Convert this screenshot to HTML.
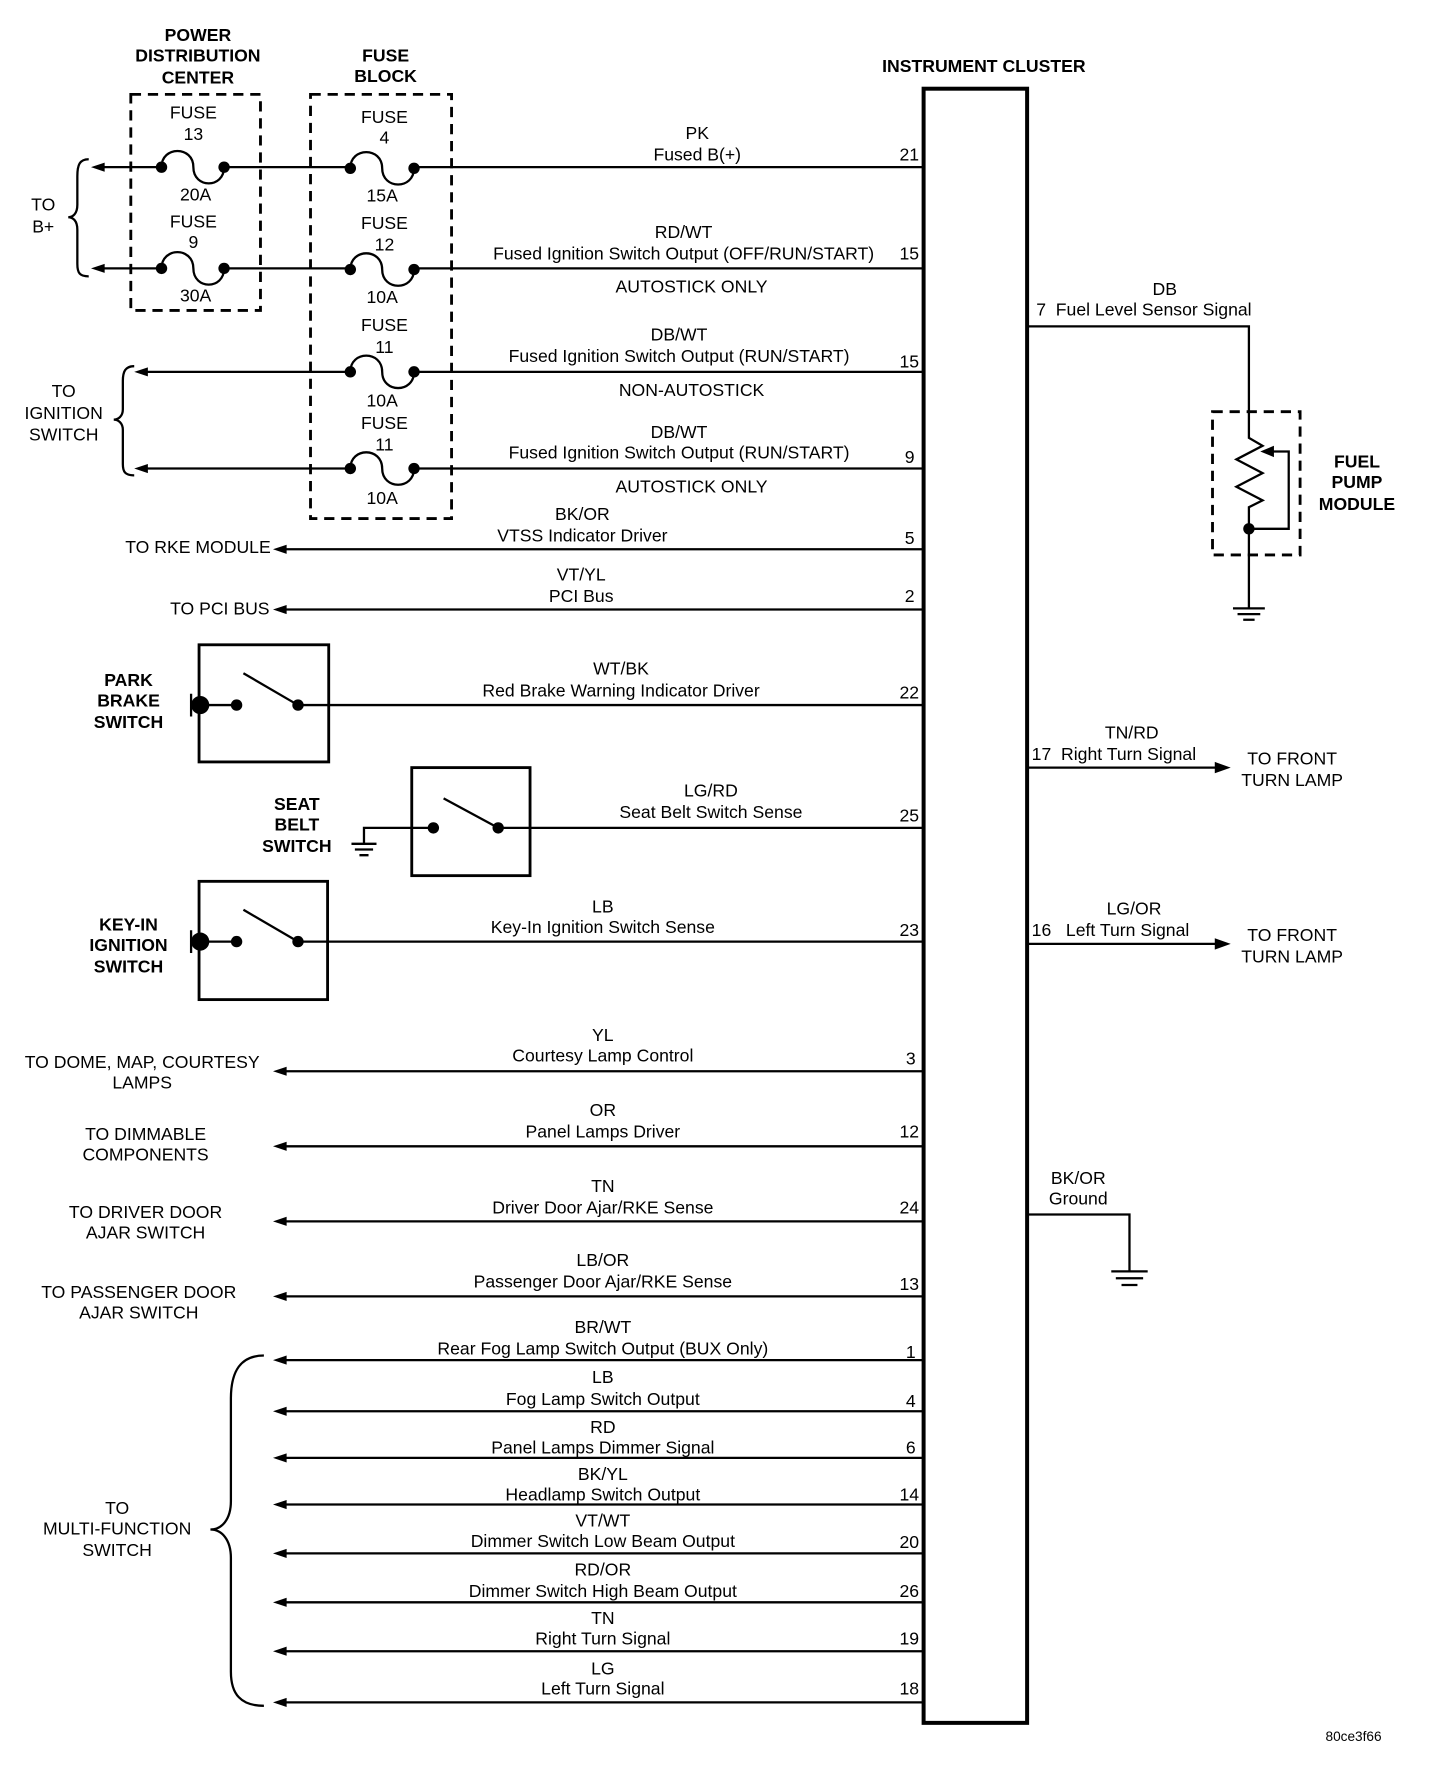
<!DOCTYPE html>
<html><head><meta charset="utf-8"><style>
html,body{margin:0;padding:0;background:#fff}
svg{display:block}
text{font-family:"Liberation Sans",Arial,sans-serif;font-size:15.5px;fill:#000;dominant-baseline:central}
.b{font-weight:bold}
.m{text-anchor:middle}
.e{text-anchor:end}
</style></head><body>
<svg width="1440" height="1782" viewBox="0 0 1266 1567" preserveAspectRatio="none" xmlns="http://www.w3.org/2000/svg">
<g stroke="#000" fill="none" stroke-width="2">
<rect x="812" y="78" width="91" height="1437" stroke-width="3.5"/>
<rect x="115" y="83" width="114" height="190" stroke-dasharray="9,6" stroke-width="2.5"/>
<rect x="273" y="83" width="124" height="373" stroke-dasharray="9,6" stroke-width="2.5"/>
<rect x="1066" y="362" width="77" height="126" stroke-dasharray="9,6" stroke-width="2.5"/>
<path d="M90,147 H142 M197,147 H308 M364,147 H812"/>
<path d="M90,236 H142 M197,236 H308 M364,236 H812"/>
<path d="M128,327 H308 M364,327 H812"/>
<path d="M128,412 H308 M364,412 H812"/>
<path d="M142,147 C142,128 170,128 170,147 C170,166 197,166 197,147"/>
<path d="M142,236 C142,217 170,217 170,236 C170,255 197,255 197,236"/>
<path d="M308,148 C308,129 336,129 336,148 C336,167 364,167 364,148"/>
<path d="M308,237 C308,218 336,218 336,237 C336,256 364,256 364,237"/>
<path d="M308,327 C308,308 336,308 336,327 C336,346 364,346 364,327"/>
<path d="M308,412 C308,393 336,393 336,412 C336,431 364,431 364,412"/>
<path d="M78,140 C70,140 68,145 68,155 V180 C68,188 64,191 60,191 C64,191 68,194 68,202 V232 C68,240 70,243 78,243"/>
<path d="M118,322 C110,322 108,327 108,335 V360 C108,366 104,369 100,369 C104,369 108,372 108,378 V408 C108,415 110,418 118,418"/>
<path d="M232,1192 C212,1192 203,1205 203,1230 V1320 C203,1336 195,1345 185,1345 C195,1345 203,1354 203,1370 V1470 C203,1490 212,1500 232,1500"/>
<path d="M250,483 H812 M250,536 H812 M262,620 H812 M438,728 H812 M262,828 H812"/>
<path d="M250,942 H812 M250,1008 H812 M250,1074 H812 M250,1140 H812"/>
<path d="M250,1196 H812 M250,1241 H812 M250,1282 H812 M250,1323 H812 M250,1366 H812 M250,1409 H812 M250,1452 H812 M250,1497 H812"/>
<rect x="175" y="567" width="114" height="103" stroke-width="2.5"/>
<rect x="362" y="675" width="104" height="95" stroke-width="2.5"/>
<rect x="175" y="775" width="113" height="104" stroke-width="2.5"/>
<path d="M168,610 V630 M176,620 H208 M214,592 L262,620"/>
<path d="M168,818 V838 M176,828 H208 M214,800 L262,828"/>
<path d="M381,728 H320 V742 M390,702 L438,728"/>
<path d="M309,742 H331 M312,747 H328 M316,752 H324"/>
<path d="M903,287 H1098 V385 L1110,392 L1087,404 L1110,416 L1087,428 L1110,440 L1098,446 V535"/>
<path d="M1098,465 H1133 V397 H1118"/>
<path d="M1084,535 H1112 M1088,540 H1108 M1093,545 H1103"/>
<path d="M903,675 H1070 M903,830 H1070"/>
<path d="M903,1068 H993 V1118 M977,1118 H1009 M981,1124 H1005 M986,1130 H1000"/>
</g>
<g fill="#000">
<path d="M80,147 L92,143 L92,151 Z"/><path d="M80,236 L92,232 L92,240 Z"/>
<path d="M118,327 L130,323 L130,331 Z"/><path d="M118,412 L130,408 L130,416 Z"/>
<path d="M240,483 L252,479 L252,487 Z"/><path d="M240,536 L252,532 L252,540 Z"/>
<path d="M240,942 L252,938 L252,946 Z"/><path d="M240,1008 L252,1004 L252,1012 Z"/>
<path d="M240,1074 L252,1070 L252,1078 Z"/><path d="M240,1140 L252,1136 L252,1144 Z"/>
<path d="M240,1196 L252,1192 L252,1200 Z"/><path d="M240,1241 L252,1237 L252,1245 Z"/>
<path d="M240,1282 L252,1278 L252,1286 Z"/><path d="M240,1323 L252,1319 L252,1327 Z"/>
<path d="M240,1366 L252,1362 L252,1370 Z"/><path d="M240,1409 L252,1405 L252,1413 Z"/>
<path d="M240,1452 L252,1448 L252,1456 Z"/><path d="M240,1497 L252,1493 L252,1501 Z"/>
<path d="M1082,675 L1068,670 L1068,680 Z"/><path d="M1082,830 L1068,825 L1068,835 Z"/>
<path d="M1108,397 L1120,392 L1120,402 Z"/>
<circle cx="142" cy="147" r="5"/><circle cx="197" cy="147" r="5"/>
<circle cx="142" cy="236" r="5"/><circle cx="197" cy="236" r="5"/>
<circle cx="308" cy="148" r="5"/><circle cx="364" cy="148" r="5"/>
<circle cx="308" cy="237" r="5"/><circle cx="364" cy="237" r="5"/>
<circle cx="308" cy="327" r="5"/><circle cx="364" cy="327" r="5"/>
<circle cx="308" cy="412" r="5"/><circle cx="364" cy="412" r="5"/>
<circle cx="176" cy="620" r="8"/><circle cx="208" cy="620" r="5"/><circle cx="262" cy="620" r="5"/>
<circle cx="176" cy="828" r="8"/><circle cx="208" cy="828" r="5"/><circle cx="262" cy="828" r="5"/>
<circle cx="381" cy="728" r="5"/><circle cx="438" cy="728" r="5"/>
<circle cx="1098" cy="465" r="5"/>
</g>
<text class="b m" x="174" y="31">POWER</text><text class="b m" x="174" y="49">DISTRIBUTION</text><text class="b m" x="174" y="68">CENTER</text>
<text class="b m" x="339" y="49">FUSE</text><text class="b m" x="339" y="67">BLOCK</text>
<text class="b m" x="865" y="58">INSTRUMENT CLUSTER</text>
<text class="m" x="170" y="99">FUSE</text><text class="m" x="170" y="118">13</text><text class="m" x="172" y="171">20A</text>
<text class="m" x="170" y="195">FUSE</text><text class="m" x="170" y="213">9</text><text class="m" x="172" y="260">30A</text>
<text class="m" x="338" y="103">FUSE</text><text class="m" x="338" y="121">4</text><text class="m" x="336" y="172">15A</text>
<text class="m" x="338" y="196">FUSE</text><text class="m" x="338" y="215">12</text><text class="m" x="336" y="261">10A</text>
<text class="m" x="338" y="286">FUSE</text><text class="m" x="338" y="305">11</text><text class="m" x="336" y="352">10A</text>
<text class="m" x="338" y="372">FUSE</text><text class="m" x="338" y="391">11</text><text class="m" x="336" y="438">10A</text>
<text class="m" x="38" y="180">TO</text><text class="m" x="38" y="199">B+</text>
<text class="m" x="56" y="344">TO</text><text class="m" x="56" y="363">IGNITION</text><text class="m" x="56" y="382">SWITCH</text>
<text class="m" x="613" y="117">PK</text><text class="m" x="613" y="136">Fused B(+)</text><text class="e" x="808" y="136">21</text>
<text class="m" x="601" y="204">RD/WT</text><text class="m" x="601" y="223">Fused Ignition Switch Output (OFF/RUN/START)</text><text class="e" x="808" y="223">15</text>
<text class="m" x="608" y="252">AUTOSTICK ONLY</text>
<text class="m" x="597" y="294">DB/WT</text><text class="m" x="597" y="313">Fused Ignition Switch Output (RUN/START)</text><text class="e" x="808" y="318">15</text>
<text class="m" x="608" y="343">NON-AUTOSTICK</text>
<text class="m" x="597" y="380">DB/WT</text><text class="m" x="597" y="398">Fused Ignition Switch Output (RUN/START)</text><text class="e" x="804" y="402">9</text>
<text class="m" x="608" y="428">AUTOSTICK ONLY</text>
<text class="m" x="512" y="452">BK/OR</text><text class="m" x="512" y="471">VTSS Indicator Driver</text><text class="e" x="804" y="473">5</text>
<text class="e" x="238" y="481">TO RKE MODULE</text>
<text class="m" x="511" y="505">VT/YL</text><text class="m" x="511" y="524">PCI Bus</text><text class="e" x="804" y="524">2</text>
<text class="e" x="237" y="535">TO PCI BUS</text>
<text class="m" x="546" y="588">WT/BK</text><text class="m" x="546" y="607">Red Brake Warning Indicator Driver</text><text class="e" x="808" y="609">22</text>
<text class="b m" x="113" y="598">PARK</text><text class="b m" x="113" y="616">BRAKE</text><text class="b m" x="113" y="635">SWITCH</text>
<text class="m" x="625" y="695">LG/RD</text><text class="m" x="625" y="714">Seat Belt Switch Sense</text><text class="e" x="808" y="717">25</text>
<text class="b m" x="261" y="707">SEAT</text><text class="b m" x="261" y="725">BELT</text><text class="b m" x="261" y="744">SWITCH</text>
<text class="m" x="530" y="797">LB</text><text class="m" x="530" y="815">Key-In Ignition Switch Sense</text><text class="e" x="808" y="818">23</text>
<text class="b m" x="113" y="813">KEY-IN</text><text class="b m" x="113" y="831">IGNITION</text><text class="b m" x="113" y="850">SWITCH</text>
<text class="m" x="530" y="910">YL</text><text class="m" x="530" y="928">Courtesy Lamp Control</text><text class="e" x="805" y="931">3</text>
<text class="m" x="125" y="934">TO DOME, MAP, COURTESY</text><text class="m" x="125" y="952">LAMPS</text>
<text class="m" x="530" y="976">OR</text><text class="m" x="530" y="995">Panel Lamps Driver</text><text class="e" x="808" y="995">12</text>
<text class="m" x="128" y="997">TO DIMMABLE</text><text class="m" x="128" y="1015">COMPONENTS</text>
<text class="m" x="530" y="1043">TN</text><text class="m" x="530" y="1062">Driver Door Ajar/RKE Sense</text><text class="e" x="808" y="1062">24</text>
<text class="m" x="128" y="1066">TO DRIVER DOOR</text><text class="m" x="128" y="1084">AJAR SWITCH</text>
<text class="m" x="530" y="1108">LB/OR</text><text class="m" x="530" y="1127">Passenger Door Ajar/RKE Sense</text><text class="e" x="808" y="1129">13</text>
<text class="m" x="122" y="1136">TO PASSENGER DOOR</text><text class="m" x="122" y="1154">AJAR SWITCH</text>
<text class="m" x="530" y="1167">BR/WT</text><text class="m" x="530" y="1186">Rear Fog Lamp Switch Output (BUX Only)</text><text class="e" x="805" y="1189">1</text>
<text class="m" x="530" y="1211">LB</text><text class="m" x="530" y="1230">Fog Lamp Switch Output</text><text class="e" x="805" y="1232">4</text>
<text class="m" x="530" y="1255">RD</text><text class="m" x="530" y="1273">Panel Lamps Dimmer Signal</text><text class="e" x="805" y="1273">6</text>
<text class="m" x="530" y="1296">BK/YL</text><text class="m" x="530" y="1314">Headlamp Switch Output</text><text class="e" x="808" y="1314">14</text>
<text class="m" x="530" y="1337">VT/WT</text><text class="m" x="530" y="1355">Dimmer Switch Low Beam Output</text><text class="e" x="808" y="1356">20</text>
<text class="m" x="530" y="1380">RD/OR</text><text class="m" x="530" y="1399">Dimmer Switch High Beam Output</text><text class="e" x="808" y="1399">26</text>
<text class="m" x="530" y="1423">TN</text><text class="m" x="530" y="1441">Right Turn Signal</text><text class="e" x="808" y="1441">19</text>
<text class="m" x="530" y="1467">LG</text><text class="m" x="530" y="1485">Left Turn Signal</text><text class="e" x="808" y="1485">18</text>
<text class="m" x="103" y="1326">TO</text><text class="m" x="103" y="1344">MULTI-FUNCTION</text><text class="m" x="103" y="1363">SWITCH</text>
<text class="m" x="1024" y="254">DB</text>
<text x="911" y="272">7 &#160;Fuel Level Sensor Signal</text>
<text class="b m" x="1193" y="406">FUEL</text><text class="b m" x="1193" y="424">PUMP</text><text class="b m" x="1193" y="443">MODULE</text>
<text class="m" x="995" y="644">TN/RD</text><text x="907" y="663">17 &#160;Right Turn Signal</text>
<text class="m" x="1136" y="667">TO FRONT</text><text class="m" x="1136" y="686">TURN LAMP</text>
<text class="m" x="997" y="799">LG/OR</text><text x="907" y="818">16 &#160;&#160;Left Turn Signal</text>
<text class="m" x="1136" y="822">TO FRONT</text><text class="m" x="1136" y="841">TURN LAMP</text>
<text class="m" x="948" y="1036">BK/OR</text><text class="m" x="948" y="1054">Ground</text>
<text class="m" x="1190" y="1527" style="font-size:12px">80ce3f66</text>
</svg>
</body></html>
